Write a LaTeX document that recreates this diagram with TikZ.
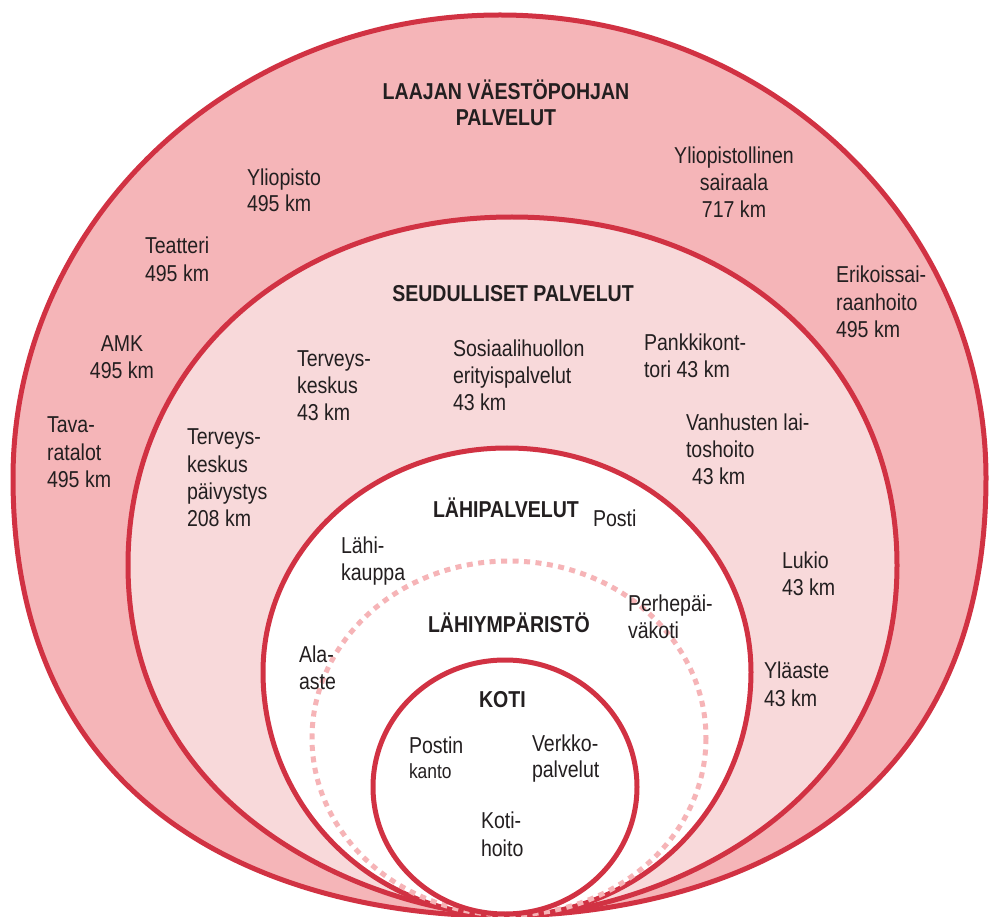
\documentclass[tikz,border=0pt]{standalone}
\usepackage{fontspec}
\setmainfont{Liberation Sans}[FakeStretch=0.85]

\definecolor{ringred}{RGB}{209,50,67}
\definecolor{widefill}{RGB}{245,181,184}
\definecolor{regionfill}{RGB}{248,217,218}
\definecolor{dotpink}{RGB}{246,180,183}
\definecolor{ink}{RGB}{35,31,32}

% multi-line labels whose baseline is the baseline of their first line
\newcommand\lblL[2][27.3pt]{\vtop{\baselineskip=#1\lineskiplimit=-100pt\let\\\cr\halign{##\hfil\cr#2\crcr}}}
\newcommand\lblC[2][27.3pt]{\vtop{\baselineskip=#1\lineskiplimit=-100pt\let\\\cr\halign{\hfil##\hfil\cr#2\crcr}}}

\tikzset{
  lbl/.style={inner sep=0pt, outer sep=0pt, text=ink, font=\fontsize{23pt}{27.3pt}\selectfont},
  lblw/.style={lbl, anchor=base west},
  lblc/.style={lbl, anchor=base},
  ttl/.style={font=\fontsize{23pt}{27.3pt}\selectfont\bfseries},
  ring/.style={draw=ringred, line width=5pt},
  dotring/.style={draw=dotpink, line width=5pt, dash pattern=on 6pt off 5.5pt},
}

\begin{document}
\begin{tikzpicture}[x=1pt,y=-1pt]
\path[use as bounding box] (0,0) rectangle (989,917);
\fill[white] (0,0) rectangle (989,917);

% wide-population services
\path[ring, fill=widefill] (500,916)
  .. controls (329.6,916) and (13,850.3) .. (13,478)
  .. controls (13,222.3) and (231,15) .. (500,15)
  .. controls (769,15) and (986,222.3) .. (986,478)
  .. controls (986,850.3) and (670.4,916) .. cycle;

% regional services
\path[ring, fill=regionfill] (512,916)
  .. controls (396.8,916) and (128,828.3) .. (128,565)
  .. controls (128,363.2) and (289.3,217) .. (512,217)
  .. controls (735.3,217) and (897,363.2) .. (897,565)
  .. controls (897,828.3) and (627.5,916) .. cycle;

% local services
\path[ring, fill=white] (507,916)
  .. controls (372.2,916) and (263,806.8) .. (263,672)
  .. controls (263,548.3) and (372.2,448) .. (507,448)
  .. controls (641.8,448) and (751,548.3) .. (751,672)
  .. controls (751,806.8) and (641.8,916) .. cycle;

% neighbourhood
\draw[dotring] (509,738) ellipse [x radius=197, y radius=177];

% home
\path[ring, fill=white] (505,787) ellipse [x radius=132, y radius=127];

% outer band labels
\node[lblc, ttl] (laajan) at (506,100) {\lblC[25.5pt]{LAAJAN VÄESTÖPOHJAN\\PALVELUT}};
\node[lblw] (yliopisto) at (247,186) {\lblL[26pt]{Yliopisto\\495 km}};
\node[lblw] (teatteri) at (145,254) {\lblL[28pt]{Teatteri\\495 km}};
\node[lblc] (amk) at (122,352) {\lblC[27pt]{AMK\\495 km}};
\node[lblw] (tava) at (47,433) {\lblL[27.5pt]{Tava-\\ratalot\\495 km}};
\node[lblc] (ysair) at (734,164) {\lblC[27pt]{Yliopistollinen\\sairaala\\717 km}};
\node[lblw] (erik) at (836,283) {\lblL[27.5pt]{Erikoissai-\\raanhoito\\495 km}};

% regional band labels
\node[lblc, ttl] (seud) at (513,302) {SEUDULLISET PALVELUT};
\node[lblw] (tk) at (297,367) {\lblL[27pt]{Terveys-\\keskus\\43 km}};
\node[lblw] (sos) at (453,357) {\lblL[27pt]{Sosiaalihuollon\\erityispalvelut\\43 km}};
\node[lblw] (pankki) at (644,351) {\lblL[26.5pt]{Pankkikont-\\tori 43 km}};
\node[lblw] (vanh) at (686,431) {\lblL[27pt]{Vanhusten lai-\\toshoito\\\kern6pt43 km}};
\node[lblw] (tkp) at (187,445) {\lblL[27.3pt]{Terveys-\\keskus\\päivystys\\208 km}};
\node[lblw] (lukio) at (782,568) {\lblL[28pt]{Lukio\\43 km}};
\node[lblw] (ylaaste) at (764,678) {\lblL[28pt]{Yläaste\\43 km}};

% local services labels
\node[lblw, ttl] (lahip) at (433,518) {LÄHIPALVELUT};
\node[lblw] (posti) at (593,526) {Posti};
\node[lblw] (lahik) at (341,553) {\lblL[27pt]{Lähi-\\kauppa}};
\node[lblw, ttl] (lahiy) at (428,632) {LÄHIYMPÄRISTÖ};
\node[lblw] (perhe) at (628,611) {\lblL[27pt]{Perhepäi-\\väkoti}};
\node[lblw] (ala) at (299,662) {\lblL[27pt]{Ala-\\aste}};

% home labels
\node[lblw, ttl] (koti) at (479,707) {KOTI};
\node[lblw] (postin) at (409,753) {\lblL[25pt]{Postin\\{\fontsize{20.5pt}{24pt}\selectfont kanto}}};
\node[lblw] (verkko) at (532,751) {\lblL[26pt]{Verkko-\\palvelut}};
\node[lblw] (kotih) at (481,828) {\lblL[28pt]{Koti-\\hoito}};
\end{tikzpicture}
\end{document}
